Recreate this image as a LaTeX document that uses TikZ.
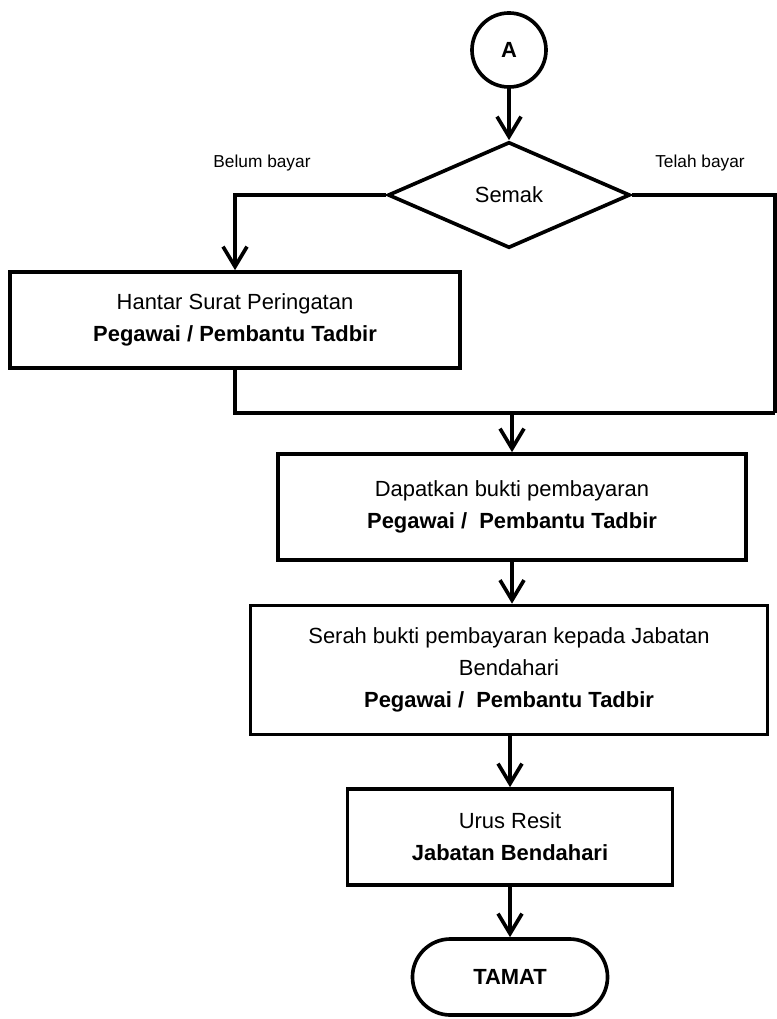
\documentclass[tikz,border=0pt]{standalone}
\usepackage{fontspec}
\setmainfont{Liberation Sans}
\usepackage{tikz}
\usetikzlibrary{shapes.geometric,arrows.meta}
\tikzstyle{proses}=[rectangle,draw=black,fill=white,line width=2.6pt,
  align=center,font=\fontsize{15.6}{22.8}\selectfont]
\tikzstyle{penyambung}=[circle,draw=black,line width=2.6pt,minimum size=1.85cm,
  inner sep=0pt,font=\fontsize{15.6}{18}\selectfont\bfseries]
\tikzstyle{semakan}=[diamond,draw=black,line width=2.6pt,minimum width=6.05cm,
  minimum height=2.65cm,inner sep=0pt,font=\fontsize{15.6}{18}\selectfont]
\tikzstyle{tamatan}=[rectangle,rounded corners=0.95cm,draw=black,line width=2.6pt,
  minimum width=4.875cm,minimum height=1.9cm,font=\fontsize{15.6}{18}\selectfont\bfseries]
\tikzstyle{label}=[font=\fontsize{12.3}{14}\selectfont]
\tikzstyle{garis}=[line width=2.6pt]
\tikzstyle{anak}=[line width=2.6pt,-{Straight Barb[length=5mm,width=6mm]}]

\begin{document}
\begin{tikzpicture}[x=0.025cm,y=-0.025cm]
    \useasboundingbox (0,0) rectangle (776,1019);
    \node [style=penyambung] (A) at (509,50) {A};
    \node [style=semakan] (semak) at (509,195) {Semak};
    \node [style=label] (belum) at (262,163) {Belum bayar};
    \node [style=label] (telah) at (700,163) {Telah bayar};
    \node [style=proses,minimum width=11.25cm,minimum height=2.4cm] (hantar) at (235,320)
      {Hantar Surat Peringatan\\ \textbf{Pegawai / Pembantu Tadbir}};
    \coordinate (kanan) at (775,413);
    \node [style=proses,minimum width=11.7cm,minimum height=2.65cm] (dapat) at (512,507)
      {Dapatkan bukti pembayaran\\ \textbf{Pegawai /\ \ Pembantu Tadbir}};
    \node [style=proses,minimum width=12.925cm,minimum height=3.225cm] (serah) at (509,670)
      {Serah bukti pembayaran kepada Jabatan\\ Bendahari\\ \textbf{Pegawai /\ \ Pembantu Tadbir}};
    \node [style=proses,minimum width=8.125cm,minimum height=2.4cm] (urus) at (510,837)
      {Urus Resit\\ \textbf{Jabatan Bendahari}};
    \node [style=tamatan] (tamat) at (510,977) {TAMAT};
    \draw [style=anak] (A) to (semak);
    \draw [style=anak] (semak.west) -| (hantar.north);
    \draw [style=garis] (semak.east) -| (kanan);
    \draw [style=garis] (hantar.south) |- (kanan);
    \draw [style=anak] (dapat.north |- kanan) to (dapat.north);
    \draw [style=anak] (dapat.south) to (dapat.south |- serah.north);
    \draw [style=anak] (urus.north |- serah.south) to (urus.north);
    \draw [style=anak] (urus.south) to (tamat.north);
\end{tikzpicture}
\end{document}
